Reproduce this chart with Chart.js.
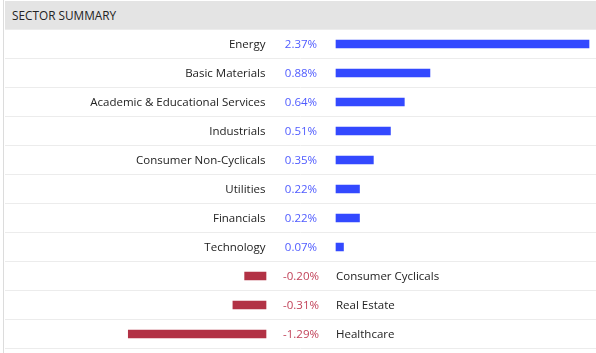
<!DOCTYPE html>
<html>
<head>
<meta charset="utf-8">
<script src="https://cdn.jsdelivr.net/npm/chart.js@4/dist/chart.umd.min.js"></script>
<style>
  html, body { margin: 0; padding: 0; background: #fff; }
  #wrap { position: relative; width: 596px; height: 353px; overflow: hidden; }
  #lborder { position: absolute; left: 3px; top: 0; width: 1px; height: 353px; background: #dcdcdc; }
  #header { position: absolute; left: 5px; top: 1px; width: 591px; height: 29px; background: #e4e4e4;
            font-family: "Open Sans", sans-serif; font-size: 11.8px; color: #222; line-height: 29px;
            padding-left: 7px; box-sizing: border-box; }
  #c { position: absolute; left: 0; top: 0; }
</style>
</head>
<body>
<div id="wrap">
  <div id="lborder"></div>
  <div id="header">SECTOR SUMMARY</div>
  <canvas id="c" width="596" height="353"></canvas>
</div>
<script>
const categories = ['Energy', 'Basic Materials', 'Academic & Educational Services', 'Industrials',
  'Consumer Non-Cyclicals', 'Utilities', 'Financials', 'Technology',
  'Consumer Cyclicals', 'Real Estate', 'Healthcare'];
const values = [2.37, 0.88, 0.64, 0.51, 0.35, 0.22, 0.22, 0.07, -0.20, -0.31, -1.29];
const valueLabels = ['2.37%', '0.88%', '0.64%', '0.51%', '0.35%', '0.22%', '0.22%', '0.07%', '-0.20%', '-0.31%', '-1.29%'];

const positiveValues = values.map(v => v >= 0 ? v : null);
const negativeValues = values.map(v => v < 0 ? v : null);

// layout constants
const AREA_LEFT = 5, AREA_WIDTH = 591;
const PX_PER_UNIT = 106.75;
const POS_ZERO_PX = 336, NEG_ZERO_PX = 266;
const posMin = -(POS_ZERO_PX - AREA_LEFT) / PX_PER_UNIT;
const negMin = -(NEG_ZERO_PX - AREA_LEFT) / PX_PER_UNIT;
const span = AREA_WIDTH / PX_PER_UNIT;

const FONT = '11.5px "Open Sans", sans-serif';

const textPlugin = {
  id: 'rowText',
  afterDatasetsDraw(chart) {
    const ctx = chart.ctx;
    const y = chart.scales.y, xp = chart.scales.xPos, xn = chart.scales.xNeg;
    const p0 = xp.getPixelForValue(0), n0 = xn.getPixelForValue(0);
    const mid = (p0 + n0) / 2;
    ctx.save();
    ctx.font = FONT;
    ctx.textBaseline = 'middle';
    categories.forEach((cat, i) => {
      const yy = y.getPixelForValue(i) + 1;
      const v = values[i];
      if (v >= 0) {
        ctx.fillStyle = '#222';
        ctx.textAlign = 'right';
        ctx.fillText(cat, n0 - 0.5, yy);
        ctx.fillStyle = '#4f5bff';
        ctx.textAlign = 'center';
        ctx.fillText(valueLabels[i], mid, yy);
      } else {
        ctx.fillStyle = '#c2435a';
        ctx.textAlign = 'center';
        ctx.fillText(valueLabels[i], mid, yy);
        ctx.fillStyle = '#222';
        ctx.textAlign = 'left';
        ctx.fillText(cat, p0, yy);
      }
    });
    ctx.restore();
  }
};

new Chart(document.getElementById('c'), {
  type: 'bar',
  data: {
    labels: categories,
    datasets: [
      { data: positiveValues, xAxisID: 'xPos', backgroundColor: '#3349ff', barThickness: 8, grouped: false },
      { data: negativeValues, xAxisID: 'xNeg', backgroundColor: '#b23245', barThickness: 8, grouped: false }
    ]
  },
  options: {
    indexAxis: 'y',
    responsive: false,
    animation: false,
    layout: { padding: { left: AREA_LEFT, right: 0, top: 29.5, bottom: 4.5 } },
    plugins: { legend: { display: false }, tooltip: { enabled: false } },
    scales: {
      xPos: { type: 'linear', position: 'bottom', display: false, min: posMin, max: posMin + span },
      xNeg: { type: 'linear', position: 'bottom', display: false, min: negMin, max: negMin + span },
      y: {
        type: 'category', offset: true,
        ticks: { display: false },
        grid: { offset: true, color: '#ececec', drawTicks: false },
        border: { display: false }
      }
    }
  },
  plugins: [textPlugin]
});
</script>
</body>
</html>
